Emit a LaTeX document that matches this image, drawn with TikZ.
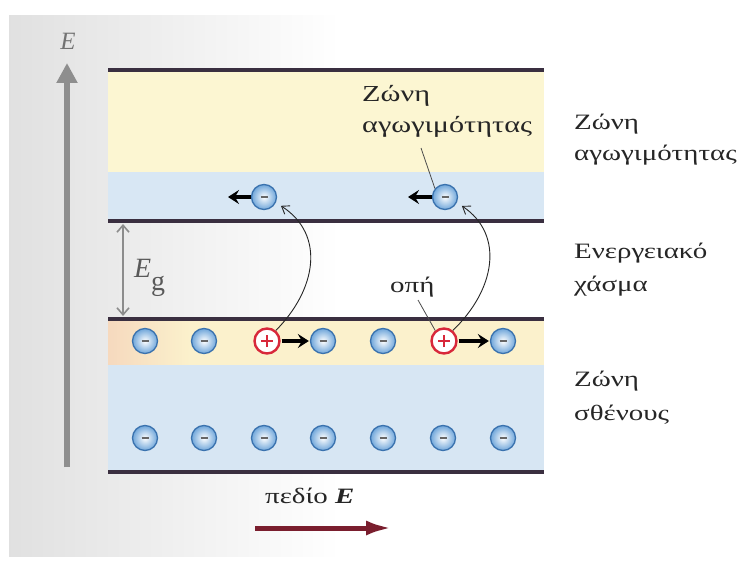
\documentclass[tikz,border=0pt]{standalone}
\usepackage{fontspec}
\setmainfont{Liberation Serif}
\newfontfamily\grfont{Liberation Serif}[FakeStretch=1.32]
\usetikzlibrary{arrows.meta,shadings}
\definecolor{bandline}{HTML}{3A2F40}
\definecolor{cyel}{HTML}{FCF6D2}
\definecolor{cblue}{HTML}{D8E7F4}
\definecolor{vyel}{HTML}{FBF1CC}
\definecolor{vpeach}{HTML}{F6D9BE}
\definecolor{vblue}{HTML}{D7E6F3}
\definecolor{eedge}{HTML}{3A72AE}
\definecolor{eball}{HTML}{6FA6DA}
\definecolor{holered}{HTML}{D8283A}
\definecolor{fieldred}{HTML}{7A1E2E}
\definecolor{axisgray}{HTML}{8E8E8E}
\tikzset{
  bline/.style={line width=3.5bp, draw=bandline},
  elec/.style={circle, minimum size=25bp, inner sep=0pt, draw=eedge, line width=1.3bp,
    shade, shading=radial, inner color=white, outer color=eball,
    path picture={\draw[line width=1.5bp, draw=black!60]
      ([xshift=-3.5bp]path picture bounding box.center) -- ([xshift=3.5bp]path picture bounding box.center);}},
  hole/.style={circle, minimum size=25bp, inner sep=0pt, draw=holered, line width=2.4bp, fill=white,
    path picture={\draw[line width=1.6bp, draw=holered]
      ([xshift=-6bp]path picture bounding box.center) -- ([xshift=6bp]path picture bounding box.center)
      ([yshift=-6bp]path picture bounding box.center) -- ([yshift=6bp]path picture bounding box.center);}},
  movearrow/.style={line width=3.2bp, -{Stealth[length=11bp,width=14bp,inset=4bp]}},
  jumparrow/.style={line width=0.9bp, draw=black!85, -{Straight Barb[length=7bp,width=10bp]}},
  pointer/.style={line width=0.8bp, draw=black!70},
  lbl/.style={anchor=base west, inner sep=0pt, font=\grfont\fontsize{22}{24}\selectfont, text=black!85},
}
\begin{document}
\begin{tikzpicture}[x=1bp,y=-1bp]
\useasboundingbox (0,0) rectangle (741,561);
\fill[white] (0,0) rectangle (741,561);
\shade[left color=black!12, right color=white] (9,16) rectangle (340,556);

% bands
\fill[cyel] (108,70) rectangle (544,172);
\fill[cblue] (108,172) rectangle (544,221);
\fill[vyel] (108,319) rectangle (544,365);
\shade[left color=vpeach, right color=vyel] (108,319) rectangle (190,365);
\fill[vblue] (108,365) rectangle (544,472);
\draw[bline] (108,70) -- (544,70);
\draw[bline] (108,221) -- (544,221);
\draw[bline] (108,319) -- (544,319);
\draw[bline] (108,472) -- (544,472);

% energy axis
\coordinate (axb) at (67,467);
\coordinate (axt) at (67,63);
\draw[line width=6bp, draw=axisgray, -{Triangle[length=20bp,width=20bp]}] (axb) -- (axt);
\node[anchor=base, inner sep=0pt, font=\fontsize{25}{28}\selectfont\itshape, text=black!55] (Elbl) at (68,50) {E};

% band gap arrow
\coordinate (gt) at (123,224);
\coordinate (gb) at (123,316);
\draw[line width=1.6bp, draw=black!45, {Straight Barb[length=7bp,width=12bp]}-{Straight Barb[length=7bp,width=12bp]}] (gt) -- (gb);
\node[anchor=base west, inner sep=0pt, font=\fontsize{28}{30}\selectfont, text=black!65] (Eg) at (134,278) {\textit{E}\raisebox{-13bp}{g}};

% conduction electrons
\node[elec] (c1) at (264,197) {};
\node[elec] (c2) at (445,197) {};
\coordinate (ca1) at (228,197);
\coordinate (ca2) at (408,197);
\draw[movearrow] (c1.west) -- (ca1);
\draw[movearrow] (c2.west) -- (ca2);

% valence top row
\node[elec] (v1) at (145,341) {};
\node[elec] (v2) at (204,341) {};
\node[hole] (v3) at (267,341) {};
\node[elec] (v4) at (323,341) {};
\node[elec] (v5) at (383,341) {};
\node[hole] (v6) at (444,341) {};
\node[elec] (v7) at (503,341) {};
\draw[movearrow, shorten <=1bp, shorten >=1bp] (v3.east) -- (v4.west);
\draw[movearrow, shorten <=1bp, shorten >=1bp] (v6.east) -- (v7.west);

% valence bottom row
\node[elec] (b1) at (145,438) {};
\node[elec] (b2) at (204,438) {};
\node[elec] (b3) at (264,438) {};
\node[elec] (b4) at (323,438) {};
\node[elec] (b5) at (383,438) {};
\node[elec] (b6) at (443,438) {};
\node[elec] (b7) at (503,438) {};

% jump arrows
\draw[jumparrow, shorten >=6bp] (v3.50) .. controls (316,290) and (326,235) .. (c1.-25);
\draw[jumparrow, shorten >=6bp] (v6.50) .. controls (495,290) and (505,235) .. (c2.-25);

% inner labels
\node[lbl, font=\grfont\fontsize{23}{25}\selectfont] (zc1) at (362,102) {Ζώνη};
\node[lbl, font=\grfont\fontsize{23}{25}\selectfont] (zc2) at (362,133) {αγωγιμότητας};
\coordinate (zp) at (421,148);
\draw[pointer] (zp) -- (c2.140);
\node[lbl] (hl) at (390,293) {οπή};
\coordinate (hp) at (418,300);
\draw[pointer] (hp) -- (v6.130);

% right labels
\node[lbl] (r1) at (574,130) {Ζώνη};
\node[lbl] (r2) at (574,161) {αγωγιμότητας};
\node[lbl] (r3) at (574,259) {Ενεργειακό};
\node[lbl] (r4) at (574,292) {χάσμα};
\node[lbl] (r5) at (574,386) {Ζώνη};
\node[lbl] (r6) at (574,420) {σθένους};

% field
\node[lbl] (fl) at (265,503) {πεδίο \textbf{\textit{E}}};
\coordinate (fa) at (255,528);
\coordinate (fb) at (392,528);
\draw[line width=5bp, draw=fieldred, -{Latex[length=26bp,width=15bp]}] (fa) -- (fb);
\end{tikzpicture}
\end{document}
